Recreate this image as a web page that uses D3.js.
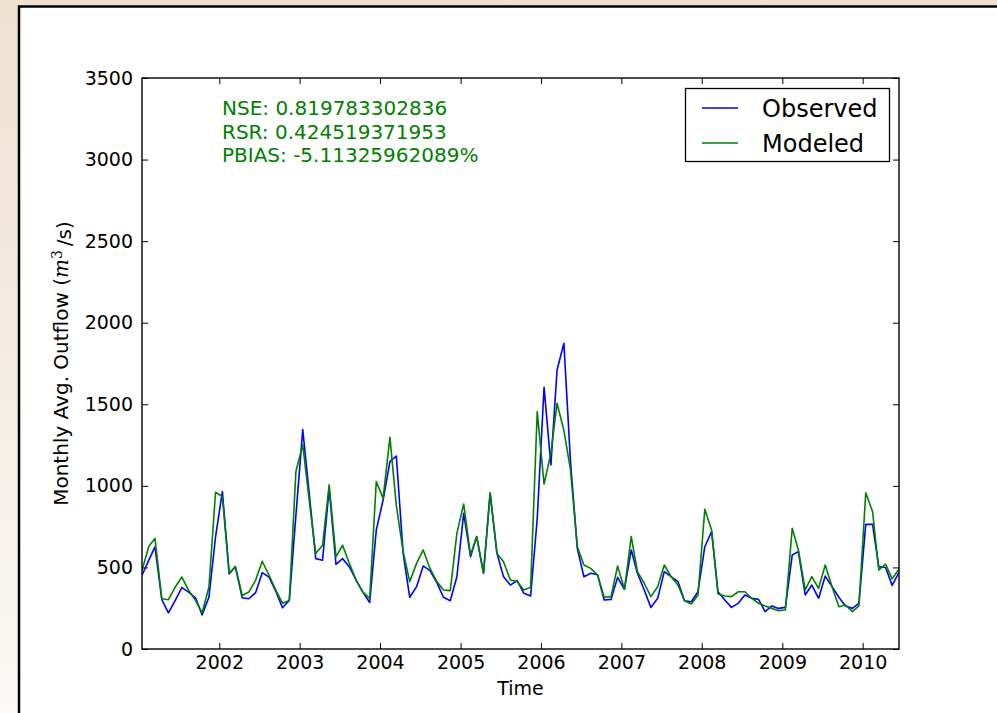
<!DOCTYPE html>
<html>
<head>
<meta charset="utf-8">
<script src="https://cdn.jsdelivr.net/npm/d3@7"></script>
<style>
    html, body { margin: 0; padding: 0; }
    body { width: 997px; height: 713px; overflow: hidden; }
    text { font-family: "DejaVu Sans", sans-serif; }
</style>
</head>
<body>
<div id="svg"></div>
<script>

// monthly averages, Jan 2001 .. Jun 2010
const observed = [
    452, 545, 626, 302, 222, 298, 376, 349, 314, 209, 318, 688,
    965, 462, 503, 314, 308, 345, 468, 441, 353, 253, 298, 820,
    1345, 934, 554, 544, 985, 519, 554, 503, 421, 349, 285, 729,
    913, 1148, 1183, 586, 317, 382, 509, 480, 407, 317, 296, 443,
    832, 566, 689, 464, 954, 586, 443, 392, 419, 341, 325, 800,
    1604, 1128, 1710, 1874, 1150, 617, 443, 464, 455, 300, 304, 439,
    366, 607, 464, 362, 255, 311, 474, 443, 413, 296, 290, 351,
    627, 719, 351, 300, 255, 280, 331, 311, 304, 229, 264, 249,
    255, 576, 597, 331, 392, 311, 447, 382, 317, 264, 249, 280,
    764, 764, 505, 500, 390, 470
];

const modeled = [
    482, 630, 677, 308, 302, 380, 441, 359, 298, 222, 380, 961,
    934, 462, 507, 328, 349, 421, 538, 452, 359, 281, 298, 1088,
    1252, 893, 585, 636, 1006, 565, 636, 523, 421, 349, 310, 1027,
    923, 1297, 880, 597, 413, 525, 607, 494, 413, 362, 358, 709,
    889, 576, 689, 464, 958, 586, 535, 423, 413, 362, 378, 1455,
    1011, 1200, 1506, 1340, 1100, 627, 515, 494, 453, 317, 321, 509,
    366, 689, 474, 403, 321, 382, 515, 443, 392, 296, 276, 331,
    856, 729, 337, 325, 321, 351, 351, 311, 280, 264, 249, 235,
    239, 740, 607, 362, 443, 372, 515, 382, 259, 270, 229, 264,
    958, 842, 484, 521, 430, 490
];

const yearTicks = [2002, 2003, 2004, 2005, 2006, 2007, 2008, 2009, 2010];
const valueTicks = [0, 500, 1000, 1500, 2000, 2500, 3000, 3500];
const seriesNames = ["Observed", "Modeled"];
const statLines = [
    "NSE: 0.819783302836",
    "RSR: 0.424519371953",
    "PBIAS: -5.11325962089%"
];

const months = d3.utcMonth.range(new Date(Date.UTC(2001, 0, 1)), new Date(Date.UTC(2010, 6, 1)))
    .map(d => d3.utcDay.offset(d, 14));

const width = 997;
const height = 713;
const plot = { left: 142, right: 899, top: 78, bottom: 649 };
const blue = "#0000ff";
const green = "#008000";

const svg = d3.select("#svg")
    .append("svg")
    .attr("width", width)
    .attr("height", height);

// page backdrop
const defs = svg.append("defs");
const grad = defs.append("linearGradient")
    .attr("id", "paper")
    .attr("x1", 0).attr("y1", 0)
    .attr("x2", 0).attr("y2", 1);
grad.append("stop").attr("offset", "0%").attr("stop-color", "#eee1d0");
grad.append("stop").attr("offset", "55%").attr("stop-color", "#f4ede5");
grad.append("stop").attr("offset", "100%").attr("stop-color", "#fbf9f6");

svg.append("rect")
    .attr("width", width)
    .attr("height", height)
    .attr("fill", "url(#paper)");

svg.append("rect")
    .attr("x", 19)
    .attr("y", 6.5)
    .attr("width", width + 20)
    .attr("height", height + 20)
    .attr("fill", "white")
    .attr("stroke", "black")
    .attr("stroke-width", 2.5);

defs.append("clipPath")
    .attr("id", "plot")
    .append("rect")
    .attr("x", plot.left)
    .attr("y", plot.top)
    .attr("width", plot.right - plot.left)
    .attr("height", plot.bottom - plot.top);

const x = d3.scaleUtc()
    .domain(d3.extent(months))
    .range([plot.left, plot.right]);

const y = d3.scaleLinear()
    .domain([0, 3500])
    .range([plot.bottom, plot.top]);

const yearDates = yearTicks.map(yr => new Date(Date.UTC(yr, 0, 1)));

const styleAxis = g => {
    g.select(".domain").remove();
    g.selectAll(".tick line").attr("stroke", "black").attr("stroke-width", 1);
    g.selectAll(".tick text")
        .attr("fill", "black")
        .style("font-size", "19px")
        .style("font-family", "'DejaVu Sans', sans-serif");
};

svg.append("g")
    .attr("transform", `translate(0,${plot.bottom})`)
    .call(d3.axisBottom(x).tickValues(yearDates).tickFormat(d3.utcFormat("%Y"))
        .tickSizeInner(-6).tickSizeOuter(0).tickPadding(7))
    .call(styleAxis);

svg.append("g")
    .attr("transform", `translate(0,${plot.top})`)
    .call(d3.axisTop(x).tickValues(yearDates).tickFormat("")
        .tickSizeInner(-6).tickSizeOuter(0))
    .call(styleAxis);

svg.append("g")
    .attr("transform", `translate(${plot.left},0)`)
    .call(d3.axisLeft(y).tickValues(valueTicks).tickFormat(d3.format("d"))
        .tickSizeInner(-6).tickSizeOuter(0).tickPadding(9))
    .call(styleAxis);

svg.append("g")
    .attr("transform", `translate(${plot.right},0)`)
    .call(d3.axisRight(y).tickValues(valueTicks).tickFormat("")
        .tickSizeInner(-6).tickSizeOuter(0))
    .call(styleAxis);

const line = d3.line()
    .x((d, i) => x(months[i]))
    .y(d => y(d));

const lines = svg.append("g").attr("clip-path", "url(#plot)");

lines.append("path")
    .datum(observed)
    .attr("d", line)
    .attr("fill", "none")
    .attr("stroke", blue)
    .attr("stroke-width", 1.6)
    .attr("stroke-linejoin", "round");

lines.append("path")
    .datum(modeled)
    .attr("d", line)
    .attr("fill", "none")
    .attr("stroke", green)
    .attr("stroke-width", 1.6)
    .attr("stroke-linejoin", "round");

// frame
svg.append("rect")
    .attr("x", plot.left)
    .attr("y", plot.top)
    .attr("width", plot.right - plot.left)
    .attr("height", plot.bottom - plot.top)
    .attr("fill", "none")
    .attr("stroke", "black")
    .attr("stroke-width", 1.4);

// stats
svg.append("g")
    .selectAll("text")
    .data(statLines)
    .join("text")
        .attr("x", 222)
        .attr("y", (d, i) => 115 + i * 23.5)
        .attr("fill", green)
        .style("font-size", "20px")
        .text(d => d);

// legend
const legend = svg.append("g");

legend.append("rect")
    .attr("x", 685.5)
    .attr("y", 88.5)
    .attr("width", 204)
    .attr("height", 73)
    .attr("fill", "white")
    .attr("stroke", "black")
    .attr("stroke-width", 1.3);

const items = legend.selectAll("g.item")
    .data(seriesNames)
    .join("g")
        .classed("item", true)
        .attr("transform", (d, i) => `translate(0,${108 + i * 35})`);

items.append("line")
    .attr("x1", 702)
    .attr("x2", 738)
    .attr("stroke", (d, i) => i === 0 ? blue : green)
    .attr("stroke-width", 1.6);

items.append("text")
    .attr("x", 762)
    .attr("dy", "0.36em")
    .attr("fill", "black")
    .style("font-size", "24px")
    .text(d => d);

// axis titles
svg.append("text")
    .attr("x", (plot.left + plot.right) / 2)
    .attr("y", 695)
    .attr("text-anchor", "middle")
    .attr("fill", "black")
    .style("font-size", "19px")
    .text("Time");

const ylab = svg.append("text")
    .attr("transform", `translate(68,${(plot.top + plot.bottom) / 2}) rotate(-90)`)
    .attr("text-anchor", "middle")
    .attr("fill", "black")
    .style("font-size", "20px");

ylab.append("tspan").text("Monthly Avg. Outflow (");
ylab.append("tspan")
    .style("font-family", "'DejaVu Serif', serif")
    .style("font-style", "italic")
    .text("m");
ylab.append("tspan")
    .attr("dy", "-0.45em")
    .style("font-size", "14px")
    .style("font-family", "'DejaVu Serif', serif")
    .text("3");
ylab.append("tspan")
    .attr("dy", "0.45em")
    .text("\u2009/s)");

</script>
</body>
</html>
